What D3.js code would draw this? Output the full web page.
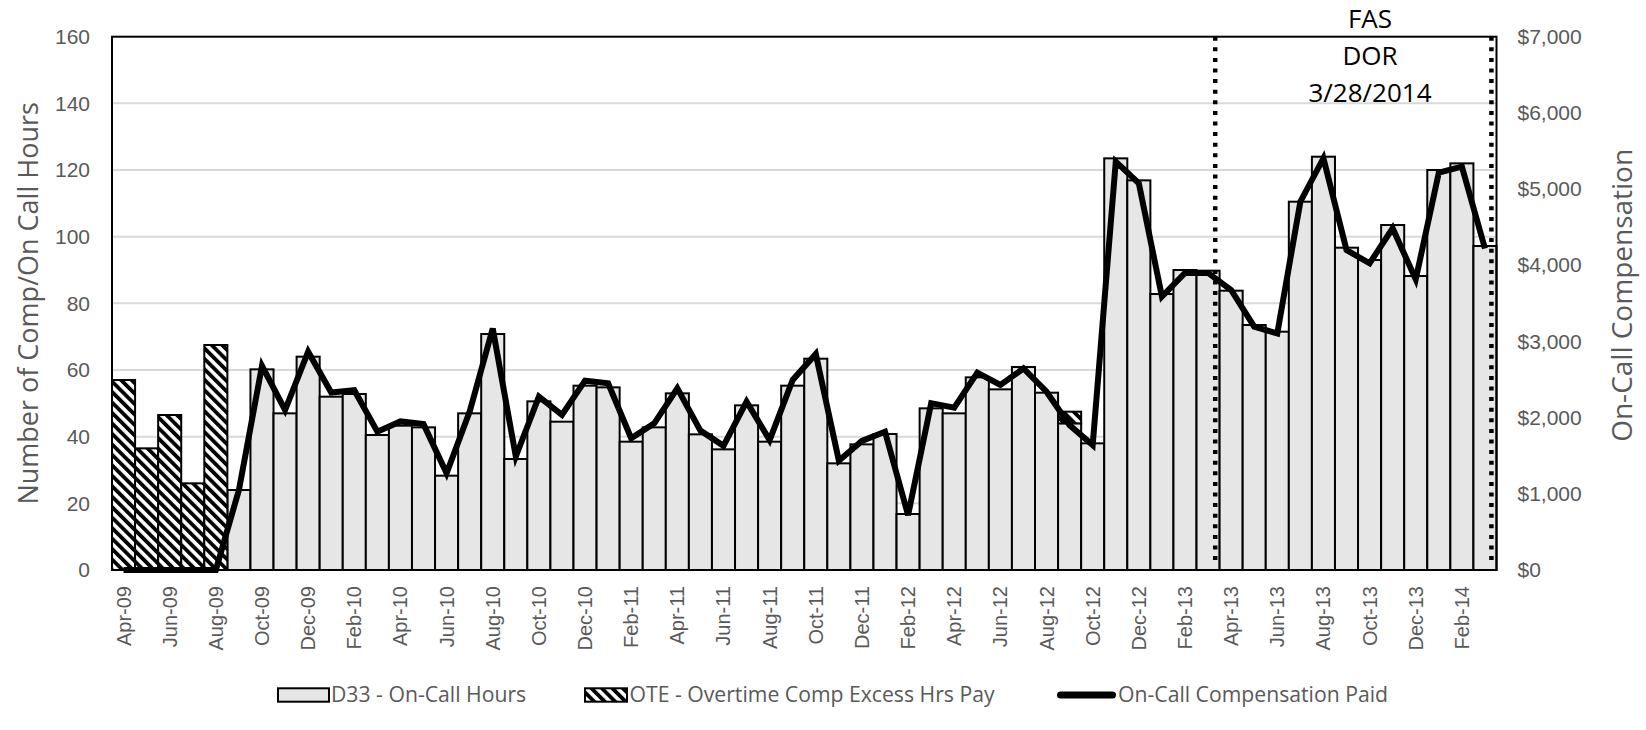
<!DOCTYPE html>
<html>
<head>
<meta charset="utf-8">
<script src="https://cdn.jsdelivr.net/npm/d3@7"></script>
<style>
  html, body { margin: 0; padding: 0; background: #fff; }
  svg { display: block; font-family: "Open Sans", "Noto Sans", sans-serif; }
</style>
</head>
<body>
<svg id="chart" width="1646" height="730"></svg>
<script>
// Monthly categories, April 2009 through March 2014
const months = [
  "Apr-09","May-09","Jun-09","Jul-09","Aug-09","Sep-09","Oct-09","Nov-09","Dec-09",
  "Jan-10","Feb-10","Mar-10","Apr-10","May-10","Jun-10","Jul-10","Aug-10","Sep-10","Oct-10","Nov-10","Dec-10",
  "Jan-11","Feb-11","Mar-11","Apr-11","May-11","Jun-11","Jul-11","Aug-11","Sep-11","Oct-11","Nov-11","Dec-11",
  "Jan-12","Feb-12","Mar-12","Apr-12","May-12","Jun-12","Jul-12","Aug-12","Sep-12","Oct-12","Nov-12","Dec-12",
  "Jan-13","Feb-13","Mar-13","Apr-13","May-13","Jun-13","Jul-13","Aug-13","Sep-13","Oct-13","Nov-13","Dec-13",
  "Jan-14","Feb-14","Mar-14"
];

// D33 - On-Call Hours (left axis)
const onCallHours = [
  0, 0, 0, 0, 0, 24, 60.2, 47, 64,
  52, 52.8, 40.5, 43.3, 42.8, 28.3, 47, 70.8, 33.3, 50.6, 44.5, 55.3,
  54.8, 38.5, 42.8, 53, 40.7, 36.2, 49.4, 38.5, 55.3, 63.4, 32, 37.7,
  40.8, 16.8, 48.5, 47, 57.8, 54.2, 60.9, 53.2, 44, 38, 123.5, 116.9,
  82.8, 90, 89.8, 83.8, 73.5, 71.5, 110.5, 124, 96.7, 93, 103.5, 88.2,
  120, 122, 97.2
];

// OTE - Overtime Comp Excess Hrs Pay (left axis, stacked on D33)
const oteHours = [
  57, 36.5, 46.5, 26, 67.5, 0, 0, 0, 0,
  0, 0, 0, 0, 0, 0, 0, 0, 0, 0, 0, 0,
  0, 0, 0, 0, 0, 0, 0, 0, 0, 0, 0, 0,
  0, 0, 0, 0, 0, 0, 0, 0, 3.5, 0, 0, 0,
  0, 0, 0, 0, 0, 0, 0, 0, 0, 0, 0, 0,
  0, 0, 0
];

// On-Call Compensation Paid, dollars (right axis)
const compensation = [
  0, 0, 0, 0, 0, 1050, 2680, 2100, 2865,
  2330, 2360, 1815, 1950, 1915, 1270, 2080, 3170, 1490, 2275, 2035, 2485,
  2450, 1730, 1925, 2385, 1830, 1630, 2210, 1705, 2495, 2835, 1435, 1695,
  1815, 720, 2190, 2130, 2590, 2430, 2645, 2340, 1900, 1640, 5360, 5075,
  3590, 3900, 3900, 3675, 3195, 3105, 4835, 5405, 4200, 4025, 4485, 3815,
  5215, 5295, 4220
];

const xTickLabels = [
  "Apr-09","Jun-09","Aug-09","Oct-09","Dec-09","Feb-10","Apr-10","Jun-10","Aug-10","Oct-10","Dec-10",
  "Feb-11","Apr-11","Jun-11","Aug-11","Oct-11","Dec-11","Feb-12","Apr-12","Jun-12","Aug-12","Oct-12","Dec-12",
  "Feb-13","Apr-13","Jun-13","Aug-13","Oct-13","Dec-13","Feb-14"
];
const leftTicks = [0, 20, 40, 60, 80, 100, 120, 140, 160];
const rightTicks = [0, 1000, 2000, 3000, 4000, 5000, 6000, 7000];

// Vertical date markers: month plus fraction of the month
const dateMarkers = [
  { month: "Mar-13", frac: 0.81 },
  { month: "Mar-14", frac: 0.78 }
];
const noteLines = ["FAS", "DOR", "3/28/2014"];

const legendItems = [
  { key: "d33", label: "D33 - On-Call Hours" },
  { key: "ote", label: "OTE - Overtime Comp Excess Hrs Pay" },
  { key: "comp", label: "On-Call Compensation Paid" }
];

// ---- layout ----
const plot = { left: 112, right: 1496.5, top: 36.7, bottom: 570 };
const axisGray = "#595959";

const svg = d3.select("#chart");

// diagonal hatch used by the OTE series
const defs = svg.append("defs");
const hatch = defs.append("pattern")
  .attr("id", "hatch")
  .attr("patternUnits", "userSpaceOnUse")
  .attr("width", 7.4).attr("height", 7.4)
  .attr("patternTransform", "rotate(-45)");
hatch.append("rect").attr("width", 7.4).attr("height", 7.4).attr("fill", "#fff");
hatch.append("rect").attr("width", 3.8).attr("height", 7.4).attr("fill", "#000");

const x = d3.scaleBand().domain(months).range([plot.left, plot.right]).padding(0);
const yL = d3.scaleLinear().domain([0, 160]).range([plot.bottom, plot.top]);
const yR = d3.scaleLinear().domain([0, 7000]).range([plot.bottom, plot.top]);
const bw = x.bandwidth();

// gridlines
svg.append("g").selectAll("line")
  .data(leftTicks.filter(t => t > 0 && t < 160))
  .join("line")
  .attr("x1", plot.left).attr("x2", plot.right)
  .attr("y1", d => yL(d)).attr("y2", d => yL(d))
  .attr("stroke", "#d9d9d9").attr("stroke-width", 2);

const rows = months.map((m, i) => ({ m, d33: onCallHours[i], ote: oteHours[i], comp: compensation[i] }));

// D33 bars
svg.append("g").selectAll("rect")
  .data(rows.filter(r => r.d33 > 0))
  .join("rect")
  .attr("x", r => x(r.m))
  .attr("y", r => yL(r.d33))
  .attr("width", bw)
  .attr("height", r => yL(0) - yL(r.d33))
  .attr("fill", "#e6e6e6")
  .attr("stroke", "#000").attr("stroke-width", 2);

// OTE bars stacked above D33
svg.append("g").selectAll("rect")
  .data(rows.filter(r => r.ote > 0))
  .join("rect")
  .attr("x", r => x(r.m))
  .attr("y", r => yL(r.d33 + r.ote))
  .attr("width", bw)
  .attr("height", r => yL(r.d33) - yL(r.d33 + r.ote))
  .attr("fill", "url(#hatch)")
  .attr("stroke", "#000").attr("stroke-width", 2);

// compensation line
const line = d3.line()
  .x(r => x(r.m) + bw / 2)
  .y(r => yR(r.comp));
svg.append("path")
  .datum(rows)
  .attr("d", line)
  .attr("fill", "none")
  .attr("stroke", "#000")
  .attr("stroke-width", 6)
  .attr("stroke-linejoin", "miter");

// plot frame
svg.append("rect")
  .attr("x", plot.left).attr("y", plot.top)
  .attr("width", plot.right - plot.left).attr("height", plot.bottom - plot.top)
  .attr("fill", "none").attr("stroke", "#000").attr("stroke-width", 2);

// dotted date markers
svg.append("g").selectAll("line")
  .data(dateMarkers)
  .join("line")
  .attr("x1", d => x(d.month) + d.frac * bw)
  .attr("x2", d => x(d.month) + d.frac * bw)
  .attr("y1", plot.top).attr("y2", plot.bottom - 4)
  .attr("stroke", "#000").attr("stroke-width", 4.5)
  .attr("stroke-dasharray", "4 6.6");

// note text
svg.append("g").selectAll("text")
  .data(noteLines)
  .join("text")
  .attr("x", 1370)
  .attr("y", (d, i) => 28 + i * 37.2)
  .attr("text-anchor", "middle")
  .attr("font-size", 26)
  .attr("fill", "#000")
  .text(d => d);

// left axis
const gL = svg.append("g")
  .attr("transform", `translate(${plot.left},0)`)
  .call(d3.axisLeft(yL).tickValues(leftTicks).tickSize(0).tickPadding(22));
gL.select(".domain").remove();
gL.selectAll("text").attr("font-size", 21).attr("fill", axisGray).attr("font-family", null);

// right axis
const gR = svg.append("g")
  .attr("transform", `translate(${plot.right},0)`)
  .call(d3.axisRight(yR).tickValues(rightTicks).tickSize(0).tickPadding(21)
    .tickFormat(d => "$" + d3.format(",")(d)));
gR.select(".domain").remove();
gR.selectAll("text").attr("font-size", 21).attr("fill", axisGray).attr("font-family", null);

// bottom axis
const gB = svg.append("g")
  .attr("transform", `translate(0,${plot.bottom})`)
  .call(d3.axisBottom(x).tickValues(xTickLabels).tickSize(0));
gB.select(".domain").remove();
gB.selectAll("text")
  .attr("transform", "rotate(-90)")
  .attr("x", -16).attr("y", 0).attr("dy", "0.35em")
  .attr("text-anchor", "end")
  .attr("font-size", 20).attr("fill", axisGray).attr("font-family", null);

// axis titles
svg.append("text")
  .attr("transform", `translate(29,${(plot.top + plot.bottom) / 2}) rotate(-90)`)
  .attr("text-anchor", "middle").attr("dy", "0.35em")
  .attr("font-size", 27).attr("fill", axisGray)
  .text("Number of Comp/On Call Hours");
svg.append("text")
  .attr("transform", `translate(1622,${(plot.top + plot.bottom) / 2 - 8}) rotate(-90)`)
  .attr("text-anchor", "middle").attr("dy", "0.35em")
  .attr("font-size", 28).attr("fill", axisGray)
  .text("On-Call Compensation");

// legend
const legendX = [278, 585, 1057];
const legendY = 695;
const lg = svg.append("g");
legendItems.forEach((item, i) => {
  const g = lg.append("g").attr("transform", `translate(${legendX[i]},${legendY})`);
  let textX;
  if (item.key === "d33") {
    g.append("rect").attr("x", 0).attr("y", -6.7).attr("width", 51).attr("height", 13.4)
      .attr("fill", "#e6e6e6").attr("stroke", "#000").attr("stroke-width", 2);
    textX = 53;
  } else if (item.key === "ote") {
    g.append("rect").attr("x", 0).attr("y", -6.7).attr("width", 42).attr("height", 13.4)
      .attr("fill", "url(#hatch)").attr("stroke", "#000").attr("stroke-width", 2);
    textX = 44.5;
  } else {
    g.append("line").attr("x1", 3.5).attr("x2", 55.5).attr("y1", 0).attr("y2", 0)
      .attr("stroke", "#000").attr("stroke-width", 7).attr("stroke-linecap", "round");
    textX = 61;
  }
  g.append("text")
    .attr("x", textX)
    .attr("y", 0).attr("dy", "0.35em")
    .attr("font-size", 21.2).attr("fill", axisGray)
    .text(item.label);
});
</script>
</body>
</html>
